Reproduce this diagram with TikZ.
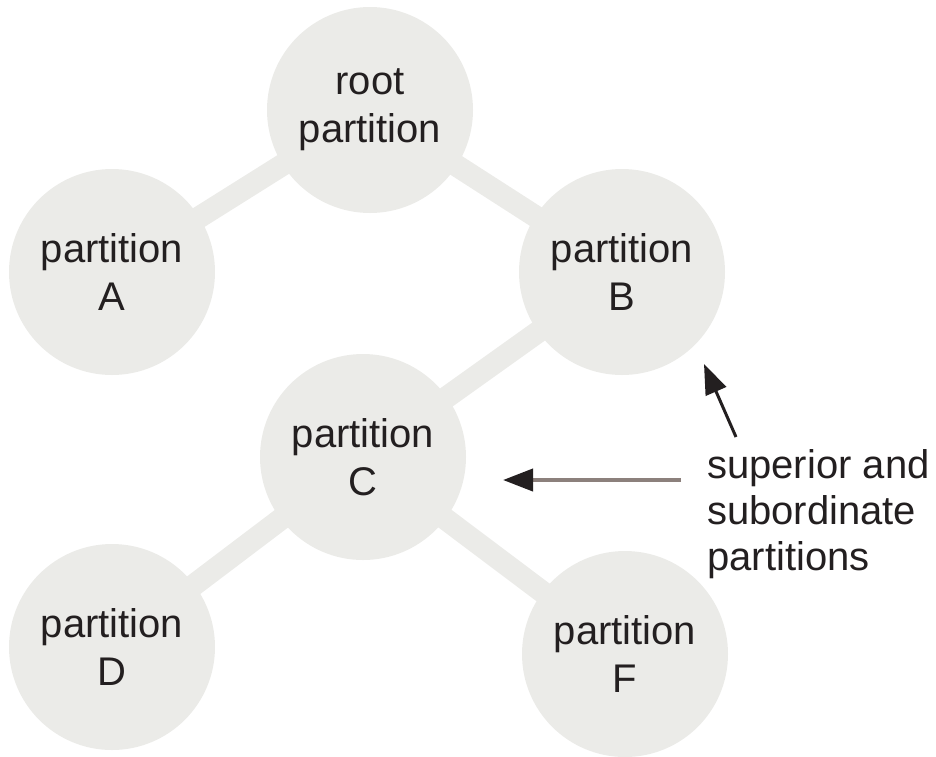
\documentclass[tikz,border=0pt]{standalone}
\usepackage{fontspec}
\setmainfont{Liberation Sans}
\usetikzlibrary{arrows.meta}
\definecolor{partfill}{RGB}{235,235,232}
\definecolor{inkcol}{RGB}{35,31,32}
\definecolor{shaftcol}{RGB}{140,128,124}
\begin{document}
\begin{tikzpicture}[x=1pt,y=-1pt,
  part/.style={circle, fill=partfill, minimum size=206pt, inner sep=0pt,
    align=center, text=inkcol, font=\fontsize{40}{48}\selectfont},
  link/.style={draw=partfill, line width=22pt},
  pointer/.style={line width=3pt, -{Triangle[length=30pt,width=22pt,color=inkcol,fill=inkcol]}}]
\useasboundingbox (0,0) rectangle (936,756);

% partition tree: links first, circles on top
\coordinate (pr) at (370,110);
\coordinate (pa) at (112,272);
\coordinate (pb) at (622,272);
\coordinate (pc) at (363,457);
\coordinate (pd) at (112,647);
\coordinate (pf) at (625,654);
\draw[link] (pr) -- (pa);
\draw[link] (pr) -- (pb);
\draw[link] (pb) -- (pc);
\draw[link] (pc) -- (pd);
\draw[link] (pc) -- (pf);

\node[part] (root) at (pr) {root\\partition};
\node[part] (A) at (pa) {partition\\A};
\node[part] (B) at (pb) {partition\\B};
\node[part] (C) at (pc) {partition\\C};
\node[part] (D) at (pd) {partition\\D};
\node[part] (F) at (pf) {partition\\F};

% annotation
\node[anchor=north west, align=left, text=inkcol, inner sep=0pt,
  font=\fontsize{40}{46}\selectfont] (note) at (707,449)
  {superior and\\subordinate\\partitions};

\coordinate (up0) at (736,437);
\coordinate (up1) at (704,364);
\coordinate (left0) at (681,480);
\coordinate (left1) at (503,480);
\draw[pointer, draw=inkcol] (up0) -- (up1);
\draw[pointer, draw=shaftcol, line width=4pt] (left0) -- (left1);
\end{tikzpicture}
\end{document}
